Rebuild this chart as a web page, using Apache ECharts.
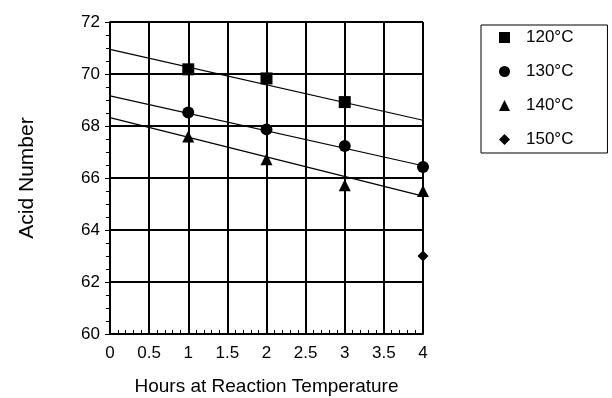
<!DOCTYPE html>
<html>
<head>
<meta charset="utf-8">
<script src="https://cdn.jsdelivr.net/npm/echarts@6/dist/echarts.min.js"></script>
<style>
  html, body { margin: 0; padding: 0; background: #fff; }
  #chart { width: 612px; height: 398px; }
</style>
</head>
<body>
<div id="chart"></div>
<script>
// hours at reaction temperature
const hours = [1, 2, 3, 4];

// acid number per temperature
const acid120 = [70.18, 69.83, 68.92];
const acid130 = [68.52, 67.87, 67.23, 66.42];
const acid140 = [67.6, 66.72, 65.72, 65.5];
const acid150 = [63.0];
const hours150 = [4];

// fitted trend lines, value at 0 h and at 4 h
const trendHours = [0, 4];
const trend120 = [70.95, 68.22];
const trend130 = [69.16, 66.47];
const trend140 = [68.32, 65.3];

const seriesNames = ["120°C", "130°C", "140°C", "150°C"];
const seriesSymbols = ["rect", "circle", "triangle", "diamond"];

function pairs(xs, ys) {
  return ys.map((y, i) => [xs[i], y]);
}

const chart = echarts.init(document.getElementById("chart"), null, { renderer: "canvas" });

const font = "Liberation Sans, Arial, Helvetica, sans-serif";

const scatterBase = {
  type: "scatter",
  itemStyle: { color: "#000", opacity: 1 },
  z: 5,
};

const trendBase = {
  type: "line",
  showSymbol: false,
  symbol: "none",
  lineStyle: { color: "#000", width: 1.2 },
  silent: true,
  z: 4,
};

// grid lines look about 2px thick in the scan
const gridLine = { color: "#000", width: 2 };

const options = {
  animation: false,
  backgroundColor: "#fff",
  textStyle: { fontFamily: font, color: "#000" },
  grid: {
    left: 110,
    right: 189,
    top: 22,
    bottom: 64,
    show: false,
    containLabel: false,
    outerBoundsMode: "none",
  },
  legend: {
    data: seriesNames.map((name, i) => ({ name: name, icon: seriesSymbols[i] })),
    orient: "vertical",
    left: 481,
    top: 25,
    padding: [4, 34, 5, 18],
    itemWidth: 11,
    itemHeight: 11,
    itemGap: 17,
    borderColor: "#000",
    borderWidth: 1,
    textStyle: { fontFamily: font, fontSize: 17, color: "#000", padding: [0, 0, 0, 11] },
  },
  xAxis: {
    type: "value",
    min: 0,
    max: 4,
    interval: 0.5,
    name: "Hours at Reaction Temperature",
    nameLocation: "middle",
    nameGap: 43,
    nameTextStyle: { fontFamily: font, fontSize: 19, color: "#000" },
    axisLine: { show: true, lineStyle: gridLine },
    axisTick: { show: true, inside: true, length: 4, lineStyle: { color: "#000" } },
    minorTick: { show: true, splitNumber: 5, length: 4, lineStyle: { color: "#000" } },
    axisLabel: { fontFamily: font, fontSize: 17, color: "#000", margin: 11 },
    splitLine: { show: true, lineStyle: gridLine },
  },
  yAxis: {
    type: "value",
    min: 60,
    max: 72,
    interval: 2,
    name: "Acid Number",
    nameLocation: "middle",
    nameGap: 72,
    nameTextStyle: { fontFamily: font, fontSize: 21, color: "#000" },
    axisLine: { show: true, lineStyle: gridLine },
    axisTick: { show: true, length: 5, lineStyle: { color: "#000" } },
    minorTick: { show: true, splitNumber: 4, length: 4, lineStyle: { color: "#000" } },
    axisLabel: { fontFamily: font, fontSize: 17, color: "#000", margin: 10 },
    splitLine: { show: true, lineStyle: gridLine },
  },
  series: [
    { ...trendBase, name: "trend120", data: pairs(trendHours, trend120) },
    { ...trendBase, name: "trend130", data: pairs(trendHours, trend130) },
    { ...trendBase, name: "trend140", data: pairs(trendHours, trend140) },
    { ...scatterBase, name: seriesNames[0], symbol: seriesSymbols[0], symbolSize: 12, data: pairs(hours, acid120) },
    { ...scatterBase, name: seriesNames[1], symbol: seriesSymbols[1], symbolSize: 12, data: pairs(hours, acid130) },
    { ...scatterBase, name: seriesNames[2], symbol: seriesSymbols[2], symbolSize: 12, data: pairs(hours, acid140) },
    { ...scatterBase, name: seriesNames[3], symbol: seriesSymbols[3], symbolSize: 11, data: pairs(hours150, acid150) },
  ],
};

chart.setOption(options);
</script>
</body>
</html>
